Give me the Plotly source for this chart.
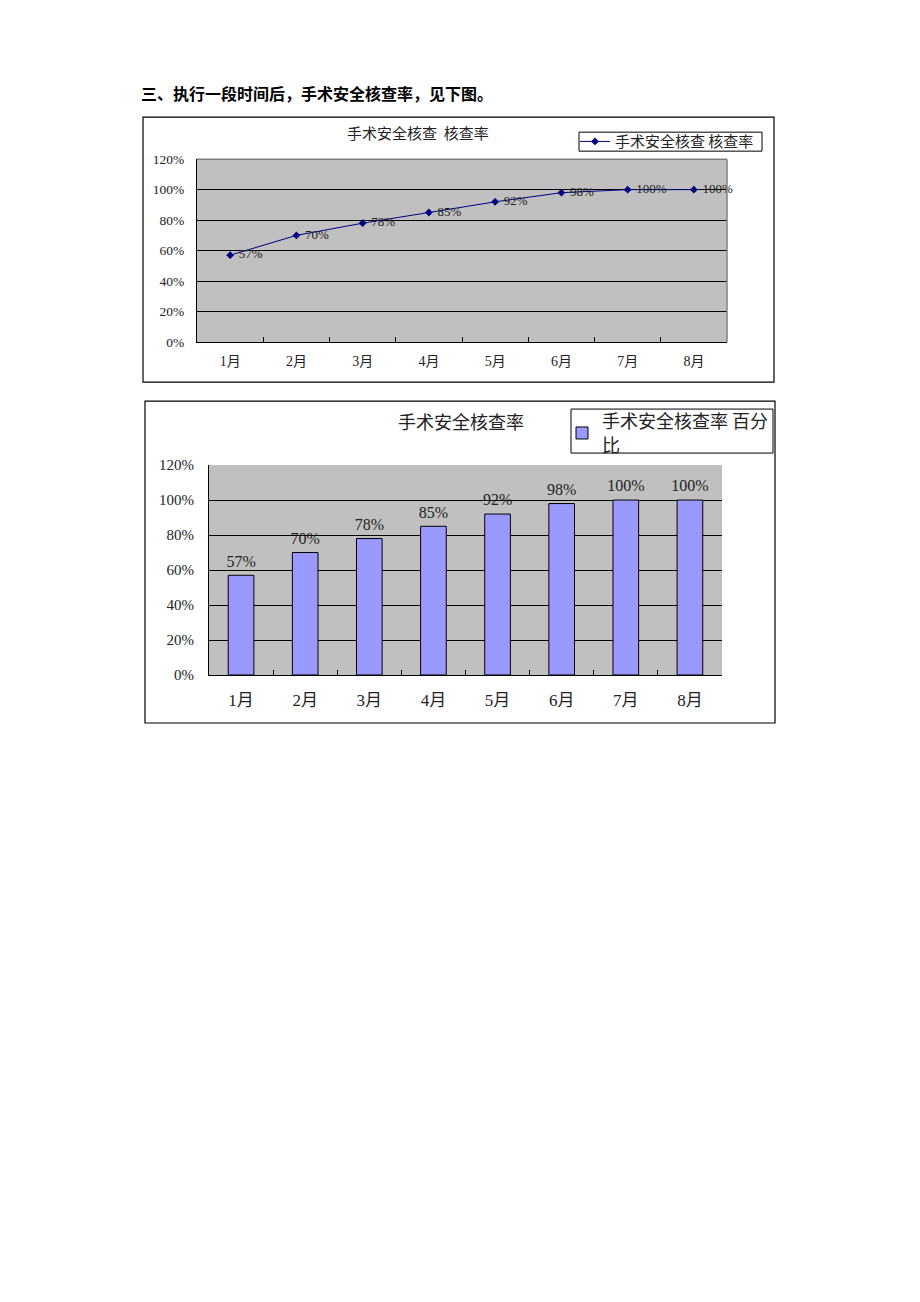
import plotly.graph_objects as go

months = ["1月", "2月", "3月", "4月", "5月", "6月", "7月", "8月"]
rate_line = [57, 70, 78, 85, 92, 98, 100, 100]
rate_bar = [57, 70, 78, 85, 92, 98, 100, 100]
y_ticks = [0, 20, 40, 60, 80, 100, 120]
y_tick_labels = ["0%", "20%", "40%", "60%", "80%", "100%", "120%"]

heading = "三、执行一段时间后，手术安全核查率，见下图。"
title1 = "手术安全核查  核查率"
legend1 = "手术安全核查 核查率"
title2 = "手术安全核查率"
legend2 = "手术安全核查率 百分<br>比"

# page geometry: plot div starts at (8, 16) in the page, and the page
# (1318 px tall) is photographed into 1302 px
OFFX, OFFY = 8, 16
SY = 1302 / 1318
W, H = 920 - 2 * OFFX, 1318 - 2 * OFFY
FONT = "Liberation Serif, Noto Sans CJK SC, serif"
CJK = "Noto Sans CJK SC, sans-serif"


def px(x):
    return (x - OFFX) / W


def py(y):
    return 1 - (y / SY - OFFY) / H


fig = go.Figure()

fig.add_trace(go.Scatter(
    x=months, y=rate_line, mode="lines+markers",
    name=legend1,
    line=dict(color="#000080", width=1),
    marker=dict(symbol="diamond", size=6, color="#000080"),
    xaxis="x", yaxis="y", legend="legend",
    cliponaxis=False,
))

fig.add_trace(go.Scatter(
    x=months, y=rate_line, mode="markers+text",
    marker=dict(size=12, color="rgba(0,0,0,0)"),
    text=[f"{v}%" for v in rate_line],
    textposition="middle right",
    textfont=dict(family=FONT, size=13, color="#222"),
    xaxis="x", yaxis="y", showlegend=False, cliponaxis=False,
    hoverinfo="skip",
))

fig.add_trace(go.Bar(
    x=months, y=rate_bar, name=legend2,
    marker=dict(color="#9999FF", line=dict(color="#000000", width=1)),
    xaxis="x2", yaxis="y2", legend="legend2",
))

fig.add_trace(go.Scatter(
    x=months, y=rate_bar, mode="markers+text",
    marker=dict(size=6, color="rgba(0,0,0,0)"),
    text=[f"{v}%" for v in rate_bar],
    textposition="top center",
    textfont=dict(family=FONT, size=16, color="#222"),
    xaxis="x2", yaxis="y2", showlegend=False, cliponaxis=False,
    hoverinfo="skip",
))

common_x = dict(
    type="category", range=[-0.5, 7.5], tickson="boundaries",
    ticks="inside", ticklen=5, tickcolor="#000", showline=True,
    linecolor="#000", linewidth=1, showgrid=False, fixedrange=True,
)
common_y = dict(
    range=[0, 120], tickvals=y_ticks, ticktext=y_tick_labels,
    ticks="", showline=True,
    linecolor="#000", linewidth=1, showgrid=True, gridcolor="#000",
    gridwidth=1, zeroline=False, fixedrange=True,
)

fig.update_layout(
    width=W, height=H, margin=dict(l=0, r=0, t=0, b=0),
    paper_bgcolor="white", plot_bgcolor="#C0C0C0",
    font=dict(family=FONT, color="#222"),
    bargap=0.6,
    xaxis=dict(common_x, domain=[px(197), px(727)], anchor="y",
               tickfont=dict(family=FONT, size=14), ticklabelstandoff=6),
    yaxis=dict(common_y, domain=[py(342), py(159)], anchor="x",
               tickfont=dict(family=FONT, size=13.5), ticklabelstandoff=9),
    xaxis2=dict(common_x, domain=[px(209), px(722)], anchor="y2",
                tickfont=dict(family=FONT, size=17), ticklabelstandoff=10),
    yaxis2=dict(common_y, domain=[py(675), py(465)], anchor="x2",
                tickfont=dict(family=FONT, size=15), ticklabelstandoff=11),
    legend=dict(x=px(575), y=py(125), xanchor="left", yanchor="top",
                borderwidth=0, bgcolor="rgba(0,0,0,0)",
                font=dict(family=CJK, size=15, color="#222"),
                tracegroupgap=0),
    legend2=dict(x=px(562), y=py(403), xanchor="left", yanchor="top",
                 borderwidth=0, bgcolor="rgba(0,0,0,0)",
                 font=dict(family=CJK, size=18, color="#222")),
    showlegend=True,
    shapes=[
        # chart frames
        dict(type="rect", xref="paper", yref="paper",
             x0=px(143), x1=px(774), y0=py(382), y1=py(117),
             line=dict(color="#000", width=1.2)),
        dict(type="rect", xref="paper", yref="paper",
             x0=px(145), x1=px(775), y0=py(723), y1=py(401),
             line=dict(color="#000", width=1.2)),
        # legend frames
        dict(type="rect", xref="paper", yref="paper",
             x0=px(579), x1=px(762), y0=py(151), y1=py(132),
             line=dict(color="#000", width=1)),
        dict(type="rect", xref="paper", yref="paper",
             x0=px(571), x1=px(773), y0=py(453), y1=py(409),
             line=dict(color="#000", width=1)),
        # grey plot-area border (top and right) of the line chart
        dict(type="line", xref="x domain", yref="y domain",
             x0=0, x1=1, y0=1, y1=1, layer="above",
             line=dict(color="#808080", width=1.5)),
        dict(type="line", xref="x domain", yref="y domain",
             x0=1, x1=1, y0=0, y1=1, layer="above",
             line=dict(color="#808080", width=1.5)),
    ],
    annotations=[
        dict(text=f"<b>{heading}</b>", xref="paper", yref="paper",
             x=px(139), y=py(93), xanchor="left", yanchor="middle",
             showarrow=False, font=dict(family=CJK, size=16, color="#000")),
        dict(text=title1, xref="paper", yref="paper",
             x=px(418), y=py(132), xanchor="center", yanchor="middle",
             showarrow=False, font=dict(family=CJK, size=15, color="#222")),
        dict(text=title2, xref="paper", yref="paper",
             x=px(461), y=py(421), xanchor="center", yanchor="middle",
             showarrow=False, font=dict(family=CJK, size=18, color="#222")),
    ],
)

fig.write_html("out.html")
